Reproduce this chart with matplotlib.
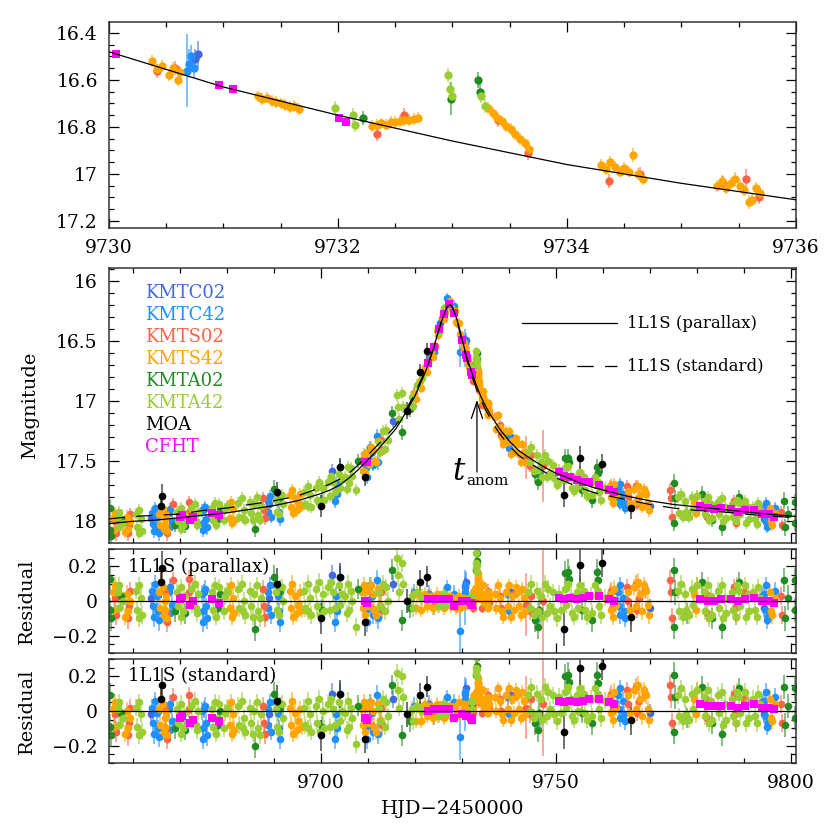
import numpy as np
import matplotlib
matplotlib.use("Agg")
import matplotlib.pyplot as plt
from matplotlib.ticker import MultipleLocator, FuncFormatter
from matplotlib.colors import to_rgba

plt.rcParams['font.family'] = 'DejaVu Serif'
plt.rcParams['mathtext.fontset'] = 'dejavuserif'

# --- model curves (1L1S) ---
model_t = [9655, 9660, 9665, 9670, 9675, 9680, 9685, 9690, 9695, 9700,
           9702, 9704, 9706, 9708, 9710, 9712, 9714, 9716, 9718, 9720,
           9721, 9722, 9723, 9724, 9725, 9726, 9726.5, 9727, 9727.5, 9728,
           9728.5, 9729, 9729.5, 9730, 9731, 9732, 9733, 9734, 9735, 9736,
           9737, 9738, 9740, 9742, 9745, 9748, 9750, 9752, 9755, 9758,
           9760, 9765, 9770, 9775, 9780, 9785, 9790, 9795, 9801]
model_par = [18.02, 18.00, 17.99, 17.97, 17.95, 17.93, 17.90, 17.87, 17.83, 17.77,
             17.74, 17.70, 17.64, 17.57, 17.49, 17.41, 17.32, 17.23, 17.10, 16.96,
             16.87, 16.78, 16.68, 16.56, 16.42, 16.30, 16.25, 16.21, 16.20, 16.22,
             16.27, 16.33, 16.40, 16.48, 16.63, 16.75, 16.86, 16.96, 17.04, 17.11,
             17.17, 17.23, 17.33, 17.41, 17.49, 17.56, 17.60, 17.63, 17.68, 17.72,
             17.74, 17.79, 17.83, 17.86, 17.88, 17.90, 17.92, 17.94, 17.96]
model_std = [17.98, 17.96, 17.95, 17.94, 17.91, 17.89, 17.86, 17.83, 17.79, 17.72,
             17.69, 17.65, 17.60, 17.53, 17.45, 17.37, 17.29, 17.20, 17.08, 16.94,
             16.85, 16.77, 16.67, 16.56, 16.42, 16.30, 16.25, 16.21, 16.20, 16.22,
             16.28, 16.34, 16.42, 16.50, 16.65, 16.78, 16.89, 16.99, 17.07, 17.14,
             17.21, 17.27, 17.37, 17.45, 17.53, 17.60, 17.64, 17.67, 17.72, 17.76,
             17.78, 17.82, 17.86, 17.89, 17.91, 17.92, 17.94, 17.955, 17.97]

# --- photometry: columns = HJD', mag, err, residual (parallax), residual (standard) ---
KMTC02 = np.array([
    [9664.0, 17.97, 0.05, 0.02, -0.02],
    [9675.2, 17.90, 0.05, 0.05, 0.01],
    [9689.0, 17.86, 0.05, 0.02, -0.02],
    [9702.5, 17.58, 0.06, 0.15, 0.10],
    [9715.3, 17.17, 0.05, 0.10, 0.07],
    [9725.4, 16.35, 0.04, 0.02, 0.02],
    [9730.75, 16.51, 0.04, 0.08, 0.10],
    [9730.78, 16.49, 0.055, 0.11, 0.13],
    [9740.5, 17.30, 0.05, 0.05, 0.09],
    [9770.0, 17.87, 0.05, -0.04, -0.01],
    [9793.8, 17.91, 0.05, 0.03, 0.05],
    [9794.1, 17.98, 0.05, -0.04, -0.02],
])

KMTC42 = np.array([
    [9664.1, 17.93, 0.05, 0.06, 0.02],
    [9664.3, 18.02, 0.05, -0.03, -0.07],
    [9664.5, 18.08, 0.06, -0.09, -0.13],
    [9664.7, 17.89, 0.05, 0.10, 0.06],
    [9665.2, 17.96, 0.05, 0.03, -0.01],
    [9665.4, 18.05, 0.05, -0.06, -0.10],
    [9665.6, 18.10, 0.06, -0.11, -0.15],
    [9667.7, 17.93, 0.05, 0.05, 0.01],
    [9667.9, 18.05, 0.05, -0.07, -0.11],
    [9668.0, 17.90, 0.05, 0.08, 0.04],
    [9668.3, 18.00, 0.05, -0.02, -0.06],
    [9674.7, 17.91, 0.05, 0.04, 0.00],
    [9674.9, 18.01, 0.05, -0.06, -0.10],
    [9675.0, 18.07, 0.06, -0.12, -0.16],
    [9675.5, 17.88, 0.05, 0.07, 0.03],
    [9675.7, 17.98, 0.05, -0.03, -0.07],
    [9675.9, 18.05, 0.06, -0.10, -0.14],
    [9688.7, 17.83, 0.05, 0.05, 0.01],
    [9688.9, 17.92, 0.05, -0.04, -0.08],
    [9689.2, 17.79, 0.05, 0.09, 0.05],
    [9689.4, 17.96, 0.05, -0.08, -0.12],
    [9690.9, 17.83, 0.05, 0.03, -0.01],
    [9691.1, 17.92, 0.05, -0.06, -0.10],
    [9691.3, 17.98, 0.06, -0.12, -0.16],
    [9703.0, 17.83, 0.06, -0.12, -0.16],
    [9703.2, 17.68, 0.05, 0.03, -0.02],
    [9703.4, 17.77, 0.05, -0.06, -0.10],
    [9704.1, 17.55, 0.06, 0.14, 0.10],
    [9709.4, 17.45, 0.05, 0.06, 0.02],
    [9709.6, 17.56, 0.05, -0.05, -0.09],
    [9709.8, 17.63, 0.06, -0.12, -0.16],
    [9710.4, 17.38, 0.05, 0.09, 0.05],
    [9710.6, 17.50, 0.05, -0.04, -0.08],
    [9710.9, 17.42, 0.05, 0.03, -0.01],
    [9711.1, 17.53, 0.05, -0.08, -0.12],
    [9711.9, 17.29, 0.06, 0.12, 0.09],
    [9712.1, 17.51, 0.06, -0.10, -0.13],
    [9719.8, 16.93, 0.05, 0.05, 0.03],
    [9723.0, 16.64, 0.05, 0.04, 0.04],
    [9724.0, 16.59, 0.05, -0.03, -0.03],
    [9726.8, 16.14, 0.04, 0.08, 0.08],
    [9728.3, 16.21, 0.05, 0.04, 0.05],
    [9729.6, 16.59, 0.13, -0.17, -0.15],
    [9730.68, 16.56, 0.157, 0.02, 0.04],
    [9730.70, 16.53, 0.06, 0.05, 0.07],
    [9730.72, 16.50, 0.05, 0.09, 0.11],
    [9730.74, 16.55, 0.04, 0.04, 0.06],
    [9739.9, 17.29, 0.05, 0.04, 0.08],
    [9740.1, 17.39, 0.05, -0.06, -0.02],
    [9746.5, 17.61, 0.05, -0.08, -0.04],
    [9763.1, 17.73, 0.05, 0.05, 0.09],
    [9763.3, 17.81, 0.05, -0.03, 0.01],
    [9763.5, 17.86, 0.05, -0.08, -0.04],
    [9763.7, 17.69, 0.05, 0.09, 0.13],
    [9764.2, 17.77, 0.05, 0.02, 0.06],
    [9764.4, 17.85, 0.05, -0.06, -0.02],
    [9764.6, 17.89, 0.05, -0.10, -0.06],
    [9794.2, 17.90, 0.05, 0.04, 0.06],
    [9794.4, 17.99, 0.05, -0.05, -0.03],
    [9794.6, 17.85, 0.05, 0.09, 0.11],
    [9794.8, 18.05, 0.05, -0.11, -0.09],
    [9795.0, 18.03, 0.05, -0.09, -0.07],
    [9796.5, 17.89, 0.05, 0.06, 0.08],
])

KMTS02 = np.array([
    [9656.3, 18.00, 0.05, 0.02, -0.02],
    [9656.5, 18.10, 0.06, -0.08, -0.12],
    [9659.0, 18.10, 0.06, -0.10, -0.14],
    [9659.2, 18.03, 0.05, -0.03, -0.07],
    [9659.5, 17.94, 0.05, 0.06, 0.02],
    [9666.9, 17.93, 0.05, 0.05, 0.01],
    [9667.1, 18.05, 0.05, -0.07, -0.11],
    [9667.3, 18.10, 0.06, -0.12, -0.16],
    [9668.5, 17.86, 0.05, 0.12, 0.08],
    [9671.9, 17.84, 0.05, 0.13, 0.09],
    [9672.1, 17.92, 0.05, 0.05, 0.01],
    [9687.8, 17.81, 0.05, 0.07, 0.03],
    [9688.0, 17.91, 0.05, -0.03, -0.07],
    [9688.2, 17.97, 0.06, -0.09, -0.13],
    [9712.9, 17.32, 0.05, 0.05, 0.02],
    [9713.1, 17.41, 0.05, -0.05, -0.08],
    [9722.8, 16.67, 0.04, 0.03, 0.03],
    [9724.3, 16.54, 0.04, -0.02, -0.02],
    [9725.7, 16.31, 0.04, 0.02, 0.02],
    [9728.9, 16.35, 0.04, -0.03, -0.02],
    [9730.42, 16.56, 0.03, -0.02, 0.00],
    [9730.58, 16.55, 0.03, 0.02, 0.04],
    [9732.34, 16.83, 0.03, -0.04, -0.01],
    [9732.58, 16.75, 0.03, 0.06, 0.09],
    [9733.40, 16.77, 0.03, 0.13, 0.16],
    [9733.66, 16.91, 0.03, 0.02, 0.05],
    [9734.37, 17.03, 0.03, -0.04, -0.01],
    [9734.64, 17.00, 0.03, 0.01, 0.04],
    [9735.36, 17.04, 0.03, 0.03, 0.06],
    [9735.56, 17.02, 0.04, 0.06, 0.09],
    [9735.68, 17.10, 0.03, -0.01, 0.02],
    [9738.0, 17.20, 0.04, 0.03, 0.07],
    [9738.3, 17.28, 0.04, -0.04, 0.00],
    [9741.0, 17.33, 0.04, 0.04, 0.08],
    [9743.6, 17.47, 0.18, -0.02, 0.02],
    [9744.4, 17.54, 0.05, -0.06, -0.02],
    [9744.7, 17.45, 0.05, 0.03, 0.07],
    [9747.3, 17.54, 0.30, 0.00, 0.04],
    [9761.7, 17.70, 0.05, 0.06, 0.10],
    [9762.0, 17.80, 0.05, -0.04, 0.00],
    [9765.1, 17.71, 0.05, 0.08, 0.12],
    [9765.3, 17.79, 0.05, 0.00, 0.04],
    [9767.0, 17.71, 0.05, 0.10, 0.14],
    [9767.2, 17.86, 0.05, -0.05, -0.01],
    [9767.6, 17.80, 0.05, 0.02, 0.06],
    [9769.0, 17.76, 0.05, 0.07, 0.10],
    [9774.2, 17.74, 0.06, 0.12, 0.15],
    [9774.4, 17.81, 0.06, 0.05, 0.08],
    [9774.6, 17.96, 0.06, -0.10, -0.07],
    [9781.9, 17.85, 0.05, 0.04, 0.07],
    [9782.1, 17.96, 0.05, -0.07, -0.04],
    [9787.9, 17.83, 0.05, 0.08, 0.10],
    [9788.1, 17.95, 0.05, -0.04, -0.02],
    [9788.3, 18.01, 0.05, -0.09, -0.07],
    [9790.0, 17.87, 0.05, 0.05, 0.07],
    [9797.9, 17.92, 0.05, 0.03, 0.04],
    [9798.1, 18.03, 0.05, -0.08, -0.07],
])

KMTS42 = np.array([
    [9655.8, 17.97, 0.05, 0.05, 0.01],
    [9656.1, 18.07, 0.05, -0.05, -0.09],
    [9656.3, 17.93, 0.05, 0.09, 0.05],
    [9658.5, 18.09, 0.05, -0.09, -0.13],
    [9658.8, 17.96, 0.05, 0.04, 0.00],
    [9659.1, 18.06, 0.05, -0.06, -0.10],
    [9659.4, 18.00, 0.05, 0.00, -0.04],
    [9665.7, 17.94, 0.05, 0.05, 0.01],
    [9665.9, 18.03, 0.05, -0.04, -0.08],
    [9666.1, 17.88, 0.05, 0.11, 0.07],
    [9666.4, 17.90, 0.05, 0.08, 0.04],
    [9666.6, 18.06, 0.05, -0.08, -0.12],
    [9666.8, 17.98, 0.05, 0.00, -0.04],
    [9667.0, 18.03, 0.05, -0.05, -0.09],
    [9667.2, 17.95, 0.05, 0.03, -0.01],
    [9667.4, 18.08, 0.05, -0.10, -0.14],
    [9680.4, 17.88, 0.05, 0.05, 0.01],
    [9680.7, 17.97, 0.05, -0.04, -0.08],
    [9680.9, 17.84, 0.05, 0.09, 0.05],
    [9681.1, 18.01, 0.05, -0.09, -0.13],
    [9681.3, 17.90, 0.05, 0.02, -0.02],
    [9681.6, 17.99, 0.05, -0.07, -0.11],
    [9693.4, 17.78, 0.05, 0.06, 0.02],
    [9693.7, 17.88, 0.05, -0.04, -0.08],
    [9693.9, 17.74, 0.05, 0.10, 0.06],
    [9694.2, 17.93, 0.05, -0.09, -0.13],
    [9694.6, 17.81, 0.05, 0.03, -0.01],
    [9694.9, 17.91, 0.05, -0.07, -0.11],
    [9695.2, 17.85, 0.05, -0.02, -0.06],
    [9695.7, 17.77, 0.05, 0.05, 0.01],
    [9696.0, 17.87, 0.05, -0.05, -0.09],
    [9708.7, 17.49, 0.05, 0.05, 0.01],
    [9708.9, 17.58, 0.05, -0.04, -0.08],
    [9709.1, 17.44, 0.05, 0.09, 0.05],
    [9709.5, 17.59, 0.05, -0.08, -0.12],
    [9709.9, 17.43, 0.05, 0.06, 0.02],
    [9710.2, 17.52, 0.05, -0.03, -0.07],
    [9710.6, 17.38, 0.05, 0.09, 0.05],
    [9711.1, 17.41, 0.05, 0.04, 0.00],
    [9711.4, 17.50, 0.05, -0.05, -0.09],
    [9711.7, 17.51, 0.05, -0.08, -0.12],
    [9712.2, 17.33, 0.05, 0.07, 0.04],
    [9712.5, 17.42, 0.05, -0.02, -0.05],
    [9719.9, 16.93, 0.04, 0.04, 0.02],
    [9720.2, 16.98, 0.04, -0.04, -0.06],
    [9721.1, 16.83, 0.04, 0.03, 0.01],
    [9721.4, 16.89, 0.04, -0.05, -0.06],
    [9722.2, 16.72, 0.04, 0.04, 0.04],
    [9722.5, 16.76, 0.04, -0.03, -0.03],
    [9723.5, 16.59, 0.04, 0.03, 0.03],
    [9723.8, 16.63, 0.04, -0.04, -0.04],
    [9724.7, 16.42, 0.04, 0.04, 0.04],
    [9725.0, 16.45, 0.04, -0.03, -0.03],
    [9726.0, 16.27, 0.04, 0.03, 0.03],
    [9726.2, 16.32, 0.04, -0.04, -0.04],
    [9727.4, 16.17, 0.04, 0.03, 0.03],
    [9727.6, 16.23, 0.04, -0.03, -0.03],
    [9728.5, 16.25, 0.04, 0.02, 0.03],
    [9728.7, 16.34, 0.04, -0.04, -0.03],
    [9729.3, 16.35, 0.04, 0.03, 0.05],
    [9729.5, 16.44, 0.04, -0.04, -0.02],
    [9730.38, 16.52, 0.025, 0.02, 0.04],
    [9730.42, 16.555, 0.025, -0.01, 0.01],
    [9730.46, 16.54, 0.025, 0.01, 0.03],
    [9730.52, 16.58, 0.025, -0.02, 0.00],
    [9730.56, 16.55, 0.025, 0.01, 0.03],
    [9730.60, 16.60, 0.025, -0.03, -0.01],
    [9730.62, 16.565, 0.025, 0.01, 0.03],
    [9731.30, 16.670, 0.025, 0.00, 0.03],
    [9731.34, 16.680, 0.025, -0.01, 0.02],
    [9731.38, 16.675, 0.025, 0.00, 0.03],
    [9731.42, 16.690, 0.025, -0.01, 0.02],
    [9731.46, 16.695, 0.025, -0.01, 0.02],
    [9731.50, 16.700, 0.025, -0.01, 0.02],
    [9731.54, 16.705, 0.025, -0.01, 0.02],
    [9731.58, 16.715, 0.025, -0.02, 0.01],
    [9731.62, 16.710, 0.025, -0.01, 0.02],
    [9731.66, 16.725, 0.025, -0.02, 0.01],
    [9732.30, 16.795, 0.025, -0.01, 0.02],
    [9732.34, 16.790, 0.025, 0.00, 0.03],
    [9732.38, 16.785, 0.025, 0.01, 0.04],
    [9732.42, 16.790, 0.025, 0.01, 0.04],
    [9732.46, 16.780, 0.025, 0.02, 0.05],
    [9732.50, 16.780, 0.025, 0.03, 0.06],
    [9732.54, 16.775, 0.025, 0.03, 0.06],
    [9732.58, 16.770, 0.025, 0.04, 0.07],
    [9732.62, 16.770, 0.025, 0.05, 0.08],
    [9732.66, 16.765, 0.025, 0.06, 0.09],
    [9732.70, 16.760, 0.025, 0.07, 0.10],
    [9733.31, 16.720, 0.025, 0.17, 0.20],
    [9733.35, 16.740, 0.025, 0.16, 0.19],
    [9733.39, 16.760, 0.025, 0.14, 0.17],
    [9733.43, 16.775, 0.025, 0.13, 0.16],
    [9733.47, 16.795, 0.025, 0.11, 0.14],
    [9733.51, 16.810, 0.025, 0.10, 0.13],
    [9733.55, 16.830, 0.025, 0.09, 0.12],
    [9733.59, 16.850, 0.025, 0.07, 0.10],
    [9733.63, 16.870, 0.025, 0.05, 0.08],
    [9733.67, 16.895, 0.025, 0.03, 0.06],
    [9734.30, 16.960, 0.025, 0.02, 0.05],
    [9734.34, 16.980, 0.025, 0.01, 0.04],
    [9734.38, 16.950, 0.025, 0.04, 0.07],
    [9734.42, 16.970, 0.025, 0.02, 0.05],
    [9734.46, 16.990, 0.025, 0.01, 0.04],
    [9734.50, 16.975, 0.025, 0.03, 0.06],
    [9734.54, 16.990, 0.025, 0.01, 0.04],
    [9734.58, 16.920, 0.03, 0.09, 0.12],
    [9734.62, 17.000, 0.025, 0.01, 0.04],
    [9734.66, 17.020, 0.025, -0.01, 0.02],
    [9735.31, 17.050, 0.025, 0.01, 0.04],
    [9735.35, 17.030, 0.025, 0.04, 0.07],
    [9735.39, 17.060, 0.025, 0.01, 0.04],
    [9735.43, 17.040, 0.025, 0.03, 0.06],
    [9735.47, 17.020, 0.03, 0.05, 0.08],
    [9735.51, 17.050, 0.025, 0.03, 0.06],
    [9735.55, 17.070, 0.025, 0.01, 0.04],
    [9735.59, 17.120, 0.03, -0.04, -0.01],
    [9735.62, 17.110, 0.025, -0.03, 0.00],
    [9735.65, 17.060, 0.025, 0.03, 0.06],
    [9735.69, 17.080, 0.025, 0.01, 0.04],
    [9737.0, 17.13, 0.04, 0.04, 0.08],
    [9737.3, 17.23, 0.04, -0.04, 0.00],
    [9737.6, 17.12, 0.04, 0.09, 0.13],
    [9738.2, 17.22, 0.04, 0.02, 0.06],
    [9738.5, 17.31, 0.04, -0.06, -0.02],
    [9738.8, 17.36, 0.04, -0.09, -0.05],
    [9739.4, 17.25, 0.04, 0.05, 0.09],
    [9739.7, 17.34, 0.04, -0.03, 0.01],
    [9740.1, 17.25, 0.04, 0.09, 0.13],
    [9740.4, 17.44, 0.04, -0.09, -0.05],
    [9740.7, 17.33, 0.04, 0.03, 0.07],
    [9741.0, 17.42, 0.04, -0.05, -0.01],
    [9741.5, 17.31, 0.04, 0.08, 0.12],
    [9741.9, 17.36, 0.04, 0.05, 0.09],
    [9742.2, 17.44, 0.04, -0.03, 0.01],
    [9742.6, 17.51, 0.04, -0.08, -0.04],
    [9742.8, 17.36, 0.04, 0.07, 0.11],
    [9743.1, 17.42, 0.04, 0.02, 0.06],
    [9743.4, 17.51, 0.04, -0.06, -0.02],
    [9761.4, 17.71, 0.05, 0.04, 0.08],
    [9761.7, 17.80, 0.05, -0.05, -0.01],
    [9762.1, 17.85, 0.05, -0.09, -0.05],
    [9762.4, 17.69, 0.05, 0.07, 0.11],
    [9762.7, 17.78, 0.05, -0.02, 0.02],
    [9765.4, 17.75, 0.05, 0.05, 0.09],
    [9765.7, 17.85, 0.05, -0.05, -0.01],
    [9766.0, 17.89, 0.05, -0.09, -0.05],
    [9766.6, 17.73, 0.05, 0.08, 0.12],
    [9766.9, 17.84, 0.05, -0.03, 0.01],
    [9767.4, 17.71, 0.05, 0.11, 0.15],
    [9767.9, 17.78, 0.05, 0.04, 0.07],
    [9768.2, 17.88, 0.05, -0.06, -0.03],
    [9768.6, 17.73, 0.05, 0.09, 0.12],
    [9769.2, 17.77, 0.05, 0.06, 0.09],
    [9769.5, 17.85, 0.05, -0.02, 0.01],
    [9769.8, 17.91, 0.05, -0.08, -0.05],
    [9779.4, 17.84, 0.05, 0.04, 0.07],
    [9779.7, 17.93, 0.05, -0.05, -0.02],
    [9779.9, 17.79, 0.05, 0.09, 0.12],
    [9795.4, 17.89, 0.05, 0.05, 0.07],
    [9795.7, 18.00, 0.05, -0.06, -0.04],
    [9796.0, 18.03, 0.05, -0.08, -0.06],
    [9796.5, 17.93, 0.05, 0.02, 0.04],
])

KMTA02 = np.array([
    [9655.2, 17.89, 0.07, 0.13, 0.09],
    [9655.3, 18.07, 0.07, -0.05, -0.09],
    [9655.4, 18.12, 0.07, -0.10, -0.14],
    [9657.5, 17.98, 0.06, 0.03, -0.01],
    [9669.0, 18.03, 0.06, -0.06, -0.10],
    [9671.2, 18.04, 0.06, -0.07, -0.11],
    [9678.2, 17.98, 0.06, -0.04, -0.08],
    [9678.5, 17.90, 0.06, 0.04, 0.00],
    [9686.1, 18.06, 0.07, -0.16, -0.20],
    [9690.1, 17.73, 0.07, 0.14, 0.10],
    [9691.4, 17.80, 0.06, 0.06, 0.02],
    [9700.3, 17.82, 0.06, -0.05, -0.09],
    [9708.0, 17.50, 0.06, 0.07, 0.03],
    [9715.1, 17.10, 0.06, 0.18, 0.15],
    [9717.3, 17.26, 0.06, -0.11, -0.14],
    [9719.0, 17.07, 0.06, -0.04, -0.06],
    [9732.22, 16.76, 0.03, 0.01, 0.04],
    [9732.99, 16.68, 0.07, 0.18, 0.21],
    [9733.22, 16.60, 0.035, 0.28, 0.31],
    [9733.24, 16.65, 0.035, 0.23, 0.26],
    [9745.6, 17.61, 0.07, -0.11, -0.07],
    [9746.2, 17.67, 0.07, -0.15, -0.11],
    [9746.4, 17.57, 0.07, -0.05, -0.01],
    [9752.0, 17.47, 0.07, 0.16, 0.20],
    [9752.6, 17.47, 0.07, 0.17, 0.21],
    [9752.8, 17.51, 0.07, 0.13, 0.17],
    [9755.6, 17.74, 0.06, -0.05, -0.01],
    [9757.6, 17.82, 0.07, -0.11, -0.07],
    [9758.7, 17.55, 0.07, 0.17, 0.21],
    [9758.9, 17.60, 0.07, 0.12, 0.16],
    [9775.0, 17.68, 0.07, 0.18, 0.21],
    [9775.1, 18.01, 0.07, -0.15, -0.12],
    [9775.3, 17.81, 0.07, 0.05, 0.08],
    [9777.9, 17.94, 0.06, -0.07, -0.04],
    [9781.1, 17.77, 0.06, 0.11, 0.14],
    [9783.2, 17.99, 0.06, -0.10, -0.07],
    [9785.3, 18.05, 0.07, -0.15, -0.13],
    [9788.9, 17.80, 0.06, 0.11, 0.13],
    [9798.4, 17.83, 0.07, 0.12, 0.14],
    [9798.6, 18.05, 0.07, -0.10, -0.08],
    [9799.2, 17.94, 0.07, 0.02, 0.03],
    [9800.8, 17.84, 0.07, 0.12, 0.13],
    [9800.8, 18.01, 0.07, -0.05, -0.04],
])

KMTA42 = np.array([
    [9656.9, 17.96, 0.05, 0.05, 0.01],
    [9657.1, 17.92, 0.05, 0.09, 0.05],
    [9657.2, 18.05, 0.05, -0.04, -0.08],
    [9658.0, 18.01, 0.05, 0.00, -0.04],
    [9660.7, 17.94, 0.05, 0.06, 0.02],
    [9661.0, 18.05, 0.05, -0.05, -0.09],
    [9661.3, 18.10, 0.05, -0.10, -0.14],
    [9661.4, 17.91, 0.05, 0.09, 0.05],
    [9661.7, 17.98, 0.05, 0.02, -0.02],
    [9662.0, 18.08, 0.05, -0.08, -0.12],
    [9669.4, 17.92, 0.05, 0.05, 0.01],
    [9669.7, 18.00, 0.05, -0.03, -0.07],
    [9670.2, 17.89, 0.05, 0.08, 0.04],
    [9670.4, 18.06, 0.05, -0.09, -0.13],
    [9670.7, 18.03, 0.05, -0.06, -0.10],
    [9671.0, 17.94, 0.05, 0.03, -0.01],
    [9672.4, 17.89, 0.05, 0.07, 0.03],
    [9672.7, 17.98, 0.05, -0.02, -0.06],
    [9673.2, 17.86, 0.05, 0.10, 0.06],
    [9673.4, 18.00, 0.05, -0.04, -0.08],
    [9673.7, 18.03, 0.05, -0.07, -0.11],
    [9674.0, 17.92, 0.05, 0.04, 0.00],
    [9676.9, 17.89, 0.05, 0.05, 0.01],
    [9677.2, 17.99, 0.05, -0.05, -0.09],
    [9677.6, 17.85, 0.05, 0.09, 0.05],
    [9677.8, 18.03, 0.05, -0.09, -0.13],
    [9678.1, 17.94, 0.05, 0.00, -0.04],
    [9678.4, 17.86, 0.05, 0.08, 0.04],
    [9679.4, 17.99, 0.05, -0.06, -0.10],
    [9679.7, 17.90, 0.05, 0.03, -0.01],
    [9680.0, 17.87, 0.05, 0.06, 0.02],
    [9682.4, 17.85, 0.05, 0.07, 0.03],
    [9682.7, 17.96, 0.05, -0.04, -0.08],
    [9683.2, 17.81, 0.05, 0.10, 0.06],
    [9683.4, 17.97, 0.05, -0.06, -0.10],
    [9683.7, 17.91, 0.05, 0.00, -0.04],
    [9684.0, 17.99, 0.05, -0.08, -0.12],
    [9684.9, 17.84, 0.05, 0.06, 0.02],
    [9685.2, 17.93, 0.05, -0.03, -0.07],
    [9685.7, 17.99, 0.05, -0.09, -0.13],
    [9685.9, 17.86, 0.05, 0.04, 0.00],
    [9686.4, 17.80, 0.05, 0.09, 0.05],
    [9686.7, 17.95, 0.05, -0.06, -0.10],
    [9687.0, 17.99, 0.05, -0.10, -0.14],
    [9687.3, 17.87, 0.05, 0.02, -0.02],
    [9690.4, 17.82, 0.05, 0.05, 0.01],
    [9690.7, 17.92, 0.05, -0.05, -0.09],
    [9691.2, 17.94, 0.05, -0.08, -0.12],
    [9691.7, 17.78, 0.05, 0.08, 0.04],
    [9692.0, 17.86, 0.05, 0.00, -0.04],
    [9696.4, 17.76, 0.05, 0.06, 0.02],
    [9696.7, 17.86, 0.05, -0.04, -0.08],
    [9697.2, 17.71, 0.05, 0.10, 0.06],
    [9697.4, 17.87, 0.05, -0.06, -0.10],
    [9697.7, 17.78, 0.05, 0.02, -0.02],
    [9698.0, 17.88, 0.05, -0.08, -0.12],
    [9698.9, 17.72, 0.05, 0.07, 0.03],
    [9699.2, 17.82, 0.05, -0.03, -0.07],
    [9699.6, 17.67, 0.05, 0.11, 0.07],
    [9699.8, 17.86, 0.05, -0.08, -0.12],
    [9700.4, 17.72, 0.05, 0.04, 0.00],
    [9700.7, 17.82, 0.05, -0.06, -0.10],
    [9701.5, 17.67, 0.05, 0.08, 0.04],
    [9701.9, 17.79, 0.05, -0.05, -0.09],
    [9702.2, 17.62, 0.05, 0.11, 0.07],
    [9702.7, 17.67, 0.05, 0.05, 0.01],
    [9703.0, 17.76, 0.05, -0.04, -0.08],
    [9703.9, 17.61, 0.05, 0.09, 0.05],
    [9704.2, 17.72, 0.05, -0.02, -0.06],
    [9704.6, 17.65, 0.05, 0.04, 0.00],
    [9705.2, 17.63, 0.05, 0.03, -0.01],
    [9705.5, 17.73, 0.05, -0.07, -0.11],
    [9705.8, 17.55, 0.05, 0.10, 0.06],
    [9706.1, 17.68, 0.05, -0.05, -0.09],
    [9706.4, 17.56, 0.05, 0.06, 0.02],
    [9706.7, 17.62, 0.05, 0.00, -0.04],
    [9707.6, 17.74, 0.05, -0.15, -0.19],
    [9712.4, 17.34, 0.05, 0.05, 0.02],
    [9712.7, 17.42, 0.05, -0.03, -0.06],
    [9713.3, 17.25, 0.05, 0.10, 0.07],
    [9713.6, 17.40, 0.05, -0.06, -0.09],
    [9713.9, 17.24, 0.05, 0.08, 0.05],
    [9714.2, 17.32, 0.05, 0.00, -0.03],
    [9716.3, 16.95, 0.05, 0.25, 0.22],
    [9716.5, 17.05, 0.05, 0.15, 0.12],
    [9716.7, 17.15, 0.05, 0.05, 0.02],
    [9717.2, 16.93, 0.05, 0.22, 0.20],
    [9717.4, 17.05, 0.05, 0.10, 0.08],
    [9719.4, 16.97, 0.05, 0.03, 0.01],
    [9719.7, 17.04, 0.05, -0.04, -0.06],
    [9720.5, 16.87, 0.05, 0.05, 0.03],
    [9721.5, 16.81, 0.05, 0.02, 0.00],
    [9725.0, 16.40, 0.04, 0.02, 0.02],
    [9725.2, 16.43, 0.04, -0.03, -0.03],
    [9726.3, 16.23, 0.04, 0.04, 0.04],
    [9726.5, 16.27, 0.04, -0.02, -0.02],
    [9727.0, 16.20, 0.04, 0.01, 0.01],
    [9731.97, 16.72, 0.03, 0.03, 0.06],
    [9732.13, 16.75, 0.03, 0.02, 0.05],
    [9732.15, 16.79, 0.03, -0.02, 0.01],
    [9732.96, 16.58, 0.03, 0.28, 0.31],
    [9732.98, 16.64, 0.03, 0.22, 0.25],
    [9733.00, 16.67, 0.03, 0.19, 0.22],
    [9733.25, 16.67, 0.03, 0.21, 0.24],
    [9733.28, 16.71, 0.03, 0.17, 0.20],
    [9744.1, 17.42, 0.05, 0.05, 0.09],
    [9744.4, 17.51, 0.05, -0.04, 0.00],
    [9744.7, 17.38, 0.05, 0.10, 0.14],
    [9745.3, 17.58, 0.05, -0.08, -0.04],
    [9745.9, 17.45, 0.05, 0.06, 0.10],
    [9746.1, 17.57, 0.05, -0.06, -0.02],
    [9746.9, 17.51, 0.05, 0.03, 0.07],
    [9747.1, 17.63, 0.05, -0.09, -0.05],
    [9747.6, 17.45, 0.05, 0.10, 0.14],
    [9748.0, 17.63, 0.05, -0.07, -0.03],
    [9748.4, 17.50, 0.05, 0.07, 0.11],
    [9748.7, 17.60, 0.05, -0.03, 0.01],
    [9749.3, 17.53, 0.05, 0.05, 0.09],
    [9749.6, 17.64, 0.05, -0.06, -0.02],
    [9750.3, 17.70, 0.05, -0.10, -0.06],
    [9750.7, 17.57, 0.05, 0.04, 0.08],
    [9751.0, 17.66, 0.05, -0.05, -0.01],
    [9751.9, 17.56, 0.05, 0.07, 0.11],
    [9752.2, 17.65, 0.05, -0.02, 0.02],
    [9752.6, 17.54, 0.05, 0.10, 0.14],
    [9753.2, 17.62, 0.05, 0.03, 0.07],
    [9753.5, 17.72, 0.05, -0.07, -0.03],
    [9753.9, 17.75, 0.05, -0.09, -0.05],
    [9754.4, 17.62, 0.05, 0.05, 0.09],
    [9754.7, 17.71, 0.05, -0.04, 0.00],
    [9755.2, 17.59, 0.05, 0.09, 0.13],
    [9755.9, 17.63, 0.05, 0.06, 0.10],
    [9756.2, 17.74, 0.05, -0.05, -0.01],
    [9756.6, 17.79, 0.05, -0.09, -0.05],
    [9757.4, 17.68, 0.05, 0.03, 0.07],
    [9757.7, 17.78, 0.05, -0.07, -0.03],
    [9758.2, 17.63, 0.05, 0.09, 0.13],
    [9758.9, 17.67, 0.05, 0.06, 0.10],
    [9759.2, 17.76, 0.05, -0.03, 0.01],
    [9759.6, 17.82, 0.05, -0.08, -0.04],
    [9760.5, 17.72, 0.05, 0.02, 0.06],
    [9775.9, 17.80, 0.05, 0.06, 0.09],
    [9776.2, 17.93, 0.05, -0.06, -0.03],
    [9776.6, 17.77, 0.05, 0.10, 0.13],
    [9776.9, 17.96, 0.05, -0.09, -0.06],
    [9777.4, 17.83, 0.05, 0.04, 0.07],
    [9777.7, 17.92, 0.05, -0.05, -0.02],
    [9778.2, 17.96, 0.05, -0.08, -0.05],
    [9778.9, 17.80, 0.05, 0.07, 0.10],
    [9779.2, 17.90, 0.05, -0.02, 0.01],
    [9780.0, 17.79, 0.05, 0.09, 0.12],
    [9781.4, 17.83, 0.05, 0.05, 0.08],
    [9781.7, 17.94, 0.05, -0.06, -0.03],
    [9782.3, 17.80, 0.05, 0.09, 0.12],
    [9782.6, 17.99, 0.05, -0.10, -0.07],
    [9782.9, 17.86, 0.05, 0.03, 0.06],
    [9783.2, 17.97, 0.05, -0.08, -0.05],
    [9784.4, 17.84, 0.05, 0.06, 0.09],
    [9784.7, 17.94, 0.05, -0.04, -0.01],
    [9785.2, 17.81, 0.05, 0.09, 0.11],
    [9785.5, 18.00, 0.05, -0.10, -0.08],
    [9785.9, 17.88, 0.05, 0.02, 0.04],
    [9786.2, 17.97, 0.05, -0.07, -0.05],
    [9787.4, 17.86, 0.05, 0.05, 0.07],
    [9787.7, 17.96, 0.05, -0.05, -0.03],
    [9788.2, 18.00, 0.05, -0.09, -0.07],
    [9788.4, 17.82, 0.05, 0.09, 0.11],
    [9788.9, 17.85, 0.05, 0.06, 0.08],
    [9789.2, 17.94, 0.05, -0.03, -0.01],
    [9790.2, 17.83, 0.05, 0.09, 0.11],
    [9790.4, 18.01, 0.05, -0.09, -0.07],
    [9790.7, 17.88, 0.05, 0.04, 0.06],
    [9791.0, 17.98, 0.05, -0.06, -0.04],
    [9791.9, 17.88, 0.05, 0.05, 0.07],
    [9792.2, 17.98, 0.05, -0.05, -0.03],
    [9792.8, 18.02, 0.05, -0.09, -0.07],
    [9793.0, 17.85, 0.05, 0.08, 0.10],
    [9793.3, 17.91, 0.05, 0.02, 0.04],
])

MOA = np.array([
    [9666.0, 17.87, 0.09, 0.11, 0.07],
    [9666.2, 17.79, 0.10, 0.19, 0.15],
    [9690.7, 17.76, 0.09, 0.10, 0.06],
    [9700.0, 17.87, 0.09, -0.10, -0.14],
    [9704.1, 17.55, 0.08, 0.14, 0.10],
    [9709.5, 17.63, 0.08, -0.12, -0.16],
    [9718.3, 17.08, 0.07, 0.00, -0.02],
    [9721.0, 16.76, 0.07, 0.11, 0.09],
    [9722.6, 16.58, 0.06, 0.14, 0.14],
    [9751.7, 17.78, 0.10, -0.16, -0.12],
    [9755.2, 17.47, 0.10, 0.21, 0.25],
    [9759.8, 17.52, 0.08, 0.22, 0.26],
    [9765.9, 17.89, 0.09, -0.09, -0.05],
])

CFHT = np.array([
    [9670.1, 17.96, 0.01, 0.01, -0.04],
    [9670.6, 17.95, 0.01, 0.02, -0.03],
    [9672.2, 17.99, 0.01, -0.02, -0.07],
    [9672.8, 17.96, 0.01, 0.00, -0.05],
    [9676.8, 17.93, 0.01, 0.01, -0.04],
    [9678.3, 17.95, 0.01, -0.01, -0.06],
    [9709.5, 17.51, 0.01, 0.00, -0.04],
    [9709.9, 17.51, 0.01, -0.01, -0.05],
    [9722.9, 16.68, 0.01, 0.01, 0.00],
    [9724.0, 16.55, 0.01, 0.01, 0.01],
    [9725.1, 16.40, 0.01, 0.01, 0.01],
    [9726.1, 16.28, 0.01, 0.01, 0.01],
    [9727.2, 16.19, 0.01, 0.01, 0.01],
    [9728.3, 16.27, 0.01, -0.03, -0.04],
    [9730.06, 16.49, 0.01, 0.00, -0.02],
    [9730.96, 16.62, 0.01, 0.00, -0.03],
    [9731.08, 16.64, 0.01, 0.00, -0.03],
    [9732.01, 16.76, 0.01, -0.01, -0.04],
    [9732.07, 16.78, 0.01, -0.02, -0.05],
    [9750.6, 17.59, 0.01, 0.02, 0.06],
    [9751.7, 17.62, 0.01, 0.01, 0.05],
    [9753.0, 17.63, 0.01, 0.02, 0.06],
    [9754.5, 17.66, 0.01, 0.01, 0.05],
    [9755.7, 17.67, 0.01, 0.02, 0.06],
    [9757.0, 17.67, 0.01, 0.03, 0.07],
    [9759.1, 17.70, 0.01, 0.03, 0.07],
    [9761.2, 17.74, 0.01, 0.01, 0.05],
    [9762.3, 17.76, 0.01, 0.00, 0.04],
    [9780.7, 17.87, 0.01, 0.01, 0.04],
    [9782.2, 17.89, 0.01, 0.00, 0.03],
    [9783.6, 17.90, 0.01, 0.00, 0.03],
    [9785.0, 17.89, 0.01, 0.01, 0.03],
    [9787.1, 17.90, 0.01, 0.01, 0.03],
    [9788.6, 17.92, 0.01, 0.00, 0.02],
    [9790.2, 17.91, 0.01, 0.01, 0.03],
    [9792.1, 17.91, 0.01, 0.02, 0.04],
    [9793.8, 17.94, 0.01, 0.00, 0.02],
    [9795.2, 17.94, 0.01, 0.00, 0.02],
    [9796.3, 17.96, 0.01, -0.01, 0.01],
])

names = ['KMTC02', 'KMTC42', 'KMTS02', 'KMTS42', 'KMTA02', 'KMTA42', 'MOA', 'CFHT']
colors = ['#4169e1', '#1e90ff', '#ff6347', '#ffa500', '#228b22', '#9acd32', 'black', 'magenta']
datasets = [KMTC02, KMTC42, KMTS02, KMTS42, KMTA02, KMTA42, MOA, CFHT]


def tick_fmt(v, pos):
    v = round(v, 6) + 0.0
    if v == 0:
        return '0'
    return ('%g' % v).replace('-', '\u2212')


def style_axis(ax):
    ax.tick_params(which='both', direction='in', top=True, right=True,
                   width=0.9, labelsize=13.5, pad=8)
    ax.tick_params(which='major', length=7)
    ax.tick_params(which='minor', length=3.5)
    for sp in ax.spines.values():
        sp.set_linewidth(1.1)
        sp.set_color('#333333')
    ax.yaxis.set_major_formatter(FuncFormatter(tick_fmt))
    ax.xaxis.set_major_formatter(FuncFormatter(tick_fmt))


def draw_points(ax, col, ms=5.5):
    for data, c in zip(datasets, colors):
        mk = 's' if c == 'magenta' else 'o'
        ax.errorbar(data[:, 0], data[:, col], yerr=data[:, 2], fmt=mk, ms=ms,
                    color=c, mec=c, mew=0, ecolor=to_rgba(c, 0.6),
                    elinewidth=1.3, capsize=2.5, capthick=1.1)


fig = plt.figure(figsize=(8.3, 8.32), dpi=100)
L, W = 0.1313, 0.8277
ax_top = fig.add_axes([L, 0.726, W, 0.2476])
ax_main = fig.add_axes([L, 0.3474, W, 0.3305])
ax_r1 = fig.add_axes([L, 0.2151, W, 0.125])
ax_r2 = fig.add_axes([L, 0.0829, W, 0.125])

# zoom on the anomaly
draw_points(ax_top, 1, ms=6)
ax_top.plot(model_t, model_par, color='k', lw=0.9, zorder=10)
ax_top.set_xlim(9730, 9736)
ax_top.set_ylim(17.23, 16.353)
ax_top.xaxis.set_major_locator(MultipleLocator(2))
ax_top.xaxis.set_minor_locator(MultipleLocator(0.5))
ax_top.yaxis.set_major_locator(MultipleLocator(0.2))
ax_top.yaxis.set_minor_locator(MultipleLocator(0.05))
style_axis(ax_top)

# full light curve
draw_points(ax_main, 1)
ax_main.plot(model_t, model_par, color='k', lw=0.9, zorder=10)
ax_main.plot(model_t, model_std, color='k', lw=0.9, ls=(0, (13, 9)), zorder=10)
ax_main.set_xlim(9655, 9801)
ax_main.set_ylim(18.18, 15.894)
ax_main.yaxis.set_major_locator(MultipleLocator(0.5))
ax_main.yaxis.set_minor_locator(MultipleLocator(0.1))
ax_main.set_ylabel('Magnitude', fontsize=14, labelpad=12)
for i, (n, c) in enumerate(zip(names, colors)):
    ax_main.text(0.0524, 0.908 - 0.08 * i, n, color=c, fontsize=13,
                 va='center', ha='left', transform=ax_main.transAxes)
ax_main.plot([0.6007, 0.739], [0.799, 0.799], color='k', lw=0.9,
             transform=ax_main.transAxes)
ax_main.text(0.7536, 0.799, '1L1S (parallax)', fontsize=12, va='center',
             transform=ax_main.transAxes)
ax_main.plot([0.6007, 0.739], [0.644, 0.644], color='k', lw=0.9, ls=(0, (13, 9)),
             transform=ax_main.transAxes)
ax_main.text(0.7536, 0.644, '1L1S (standard)', fontsize=12, va='center',
             transform=ax_main.transAxes)
ax_main.annotate('', xy=(9733.2, 16.99), xytext=(9733.2, 17.59),
                 arrowprops=dict(arrowstyle='->,head_length=0.6,head_width=0.2',
                                 lw=0.9, color='k', mutation_scale=20,
                                 shrinkA=0, shrinkB=0))
ax_main.text(9727.9, 17.66, r'$t$', fontsize=22, ha='left', va='baseline')
ax_main.text(9730.9, 17.70, 'anom', fontsize=11, ha='left', va='baseline')

for ax, col, lab in [(ax_r1, 3, '1L1S (parallax)'), (ax_r2, 4, '1L1S (standard)')]:
    draw_points(ax, col)
    ax.axhline(0, color='k', lw=0.9, zorder=10)
    ax.set_ylim(-0.3, 0.3)
    ax.yaxis.set_major_locator(MultipleLocator(0.2))
    ax.yaxis.set_minor_locator(MultipleLocator(0.05))
    ax.set_ylabel('Residual', fontsize=14, labelpad=12)
    ax.text(0.028, 0.833, lab, fontsize=13, va='center', ha='left',
            transform=ax.transAxes, zorder=20)

for ax in (ax_main, ax_r1, ax_r2):
    ax.set_xlim(9655, 9801)
    ax.xaxis.set_major_locator(MultipleLocator(50))
    ax.xaxis.set_minor_locator(MultipleLocator(10))
    style_axis(ax)

ax_main.tick_params(labelbottom=False)
ax_r1.tick_params(labelbottom=False)
ax_r2.set_xlabel('HJD\u22122450000', fontsize=14, labelpad=6)

fig.savefig('out.png', dpi=100)
